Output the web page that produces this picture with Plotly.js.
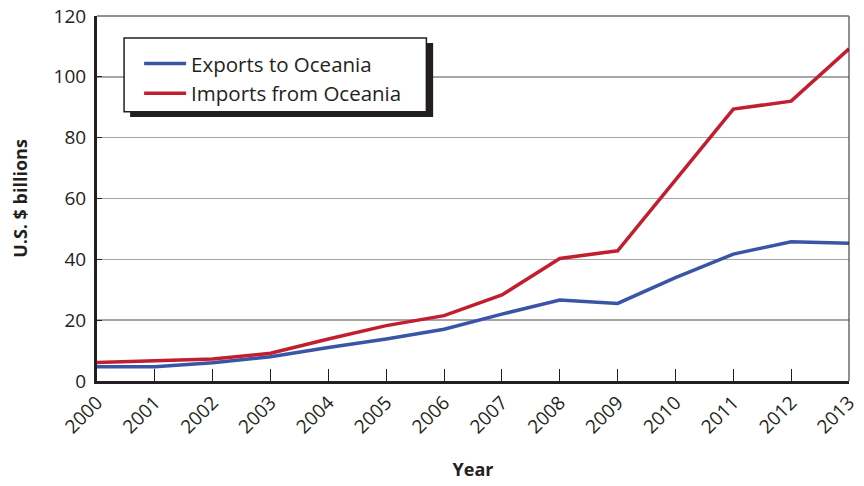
<!DOCTYPE html>
<html><head><meta charset="utf-8">
<script src="https://cdn.plot.ly/plotly-3.0.1.min.js"></script>
<style>html,body{margin:0;padding:0;background:#fff}#chart{width:864px;height:486px}</style>
</head><body><div id="chart"></div>
<script>
const years = [2000,2001,2002,2003,2004,2005,2006,2007,2008,2009,2010,2011,2012,2013];
const exportsOceania = [4.7,4.7,6.0,8.0,11.0,13.8,17.0,22.0,26.6,25.5,34.0,41.7,45.8,45.3];
const importsOceania = [6.1,6.6,7.2,9.1,13.8,18.2,21.5,28.3,40.3,42.8,66.0,89.4,92.0,109.2];
const yTicks = [0,20,40,60,80,100,120];
const FONT = 'Open Sans, Noto Sans, sans-serif';

const traces = [
  {x: years, y: exportsOceania, type:'scatter', mode:'lines', name:'Exports to Oceania',
   line:{color:'#3a55a6', width:3.5}},
  {x: years, y: importsOceania, type:'scatter', mode:'lines', name:'Imports from Oceania',
   line:{color:'#c11f30', width:3.5}}
];

const layout = {
  width:864, height:486,
  margin:{l:97, r:15, t:16, b:105},
  paper_bgcolor:'#fff', plot_bgcolor:'#fff',
  font:{family:FONT, color:'#231f20', size:19},
  showlegend:true,
  legend:{x:0.056, xanchor:'left', y:0.924, yanchor:'top', bgcolor:'rgba(0,0,0,0)',
    borderwidth:0, itemwidth:42, font:{family:FONT, size:20.5, color:'#231f20'}, tracegroupgap:0},
  xaxis:{range:[2000,2013], tickvals:years, ticktext:years.map(String), tickangle:-45,
    ticks:'inside', ticklen:12, tickwidth:1, tickcolor:'#231f20',
    showline:true, linecolor:'#231f20', linewidth:3, showgrid:false, zeroline:false,
    tickfont:{size:19}, fixedrange:true,
    title:{text:'Year', font:{size:18, family:FONT, weight:'bold'}, standoff:26}},
  yaxis:{range:[0,120], tickvals:yTicks, ticks:'inside', ticklen:5, tickcolor:'#231f20',
    showline:true, linecolor:'#231f20', linewidth:3, showgrid:true, gridcolor:'#a6a6a6', gridwidth:1.5,
    zeroline:false, tickfont:{size:19}, fixedrange:true, ticklabelstandoff:4,
    title:{text:'U.S. $ billions', font:{size:18, family:FONT, weight:'bold'}, standoff:22}},
  shapes:[
    {type:'line', xref:'paper', yref:'paper', x0:1, x1:1, y0:0, y1:1, line:{color:'#231f20', width:1}},
    {type:'line', xref:'paper', yref:'paper', x0:0, x1:1, y0:1, y1:1, line:{color:'#6d6d6d', width:1.5}},
    {type:'rect', xref:'paper', yref:'paper', x0:0.044, x1:0.447, y0:0.723, y1:0.926,
      fillcolor:'#231f20', line:{width:0}, layer:'above'},
    {type:'rect', xref:'paper', yref:'paper', x0:0.036, x1:0.438, y0:0.738, y1:0.94,
      fillcolor:'#ffffff', line:{color:'#231f20', width:1.5}, layer:'above'}
  ]
};

Plotly.newPlot('chart', traces, layout, {staticPlot:true, displayModeBar:false});
</script></body></html>
